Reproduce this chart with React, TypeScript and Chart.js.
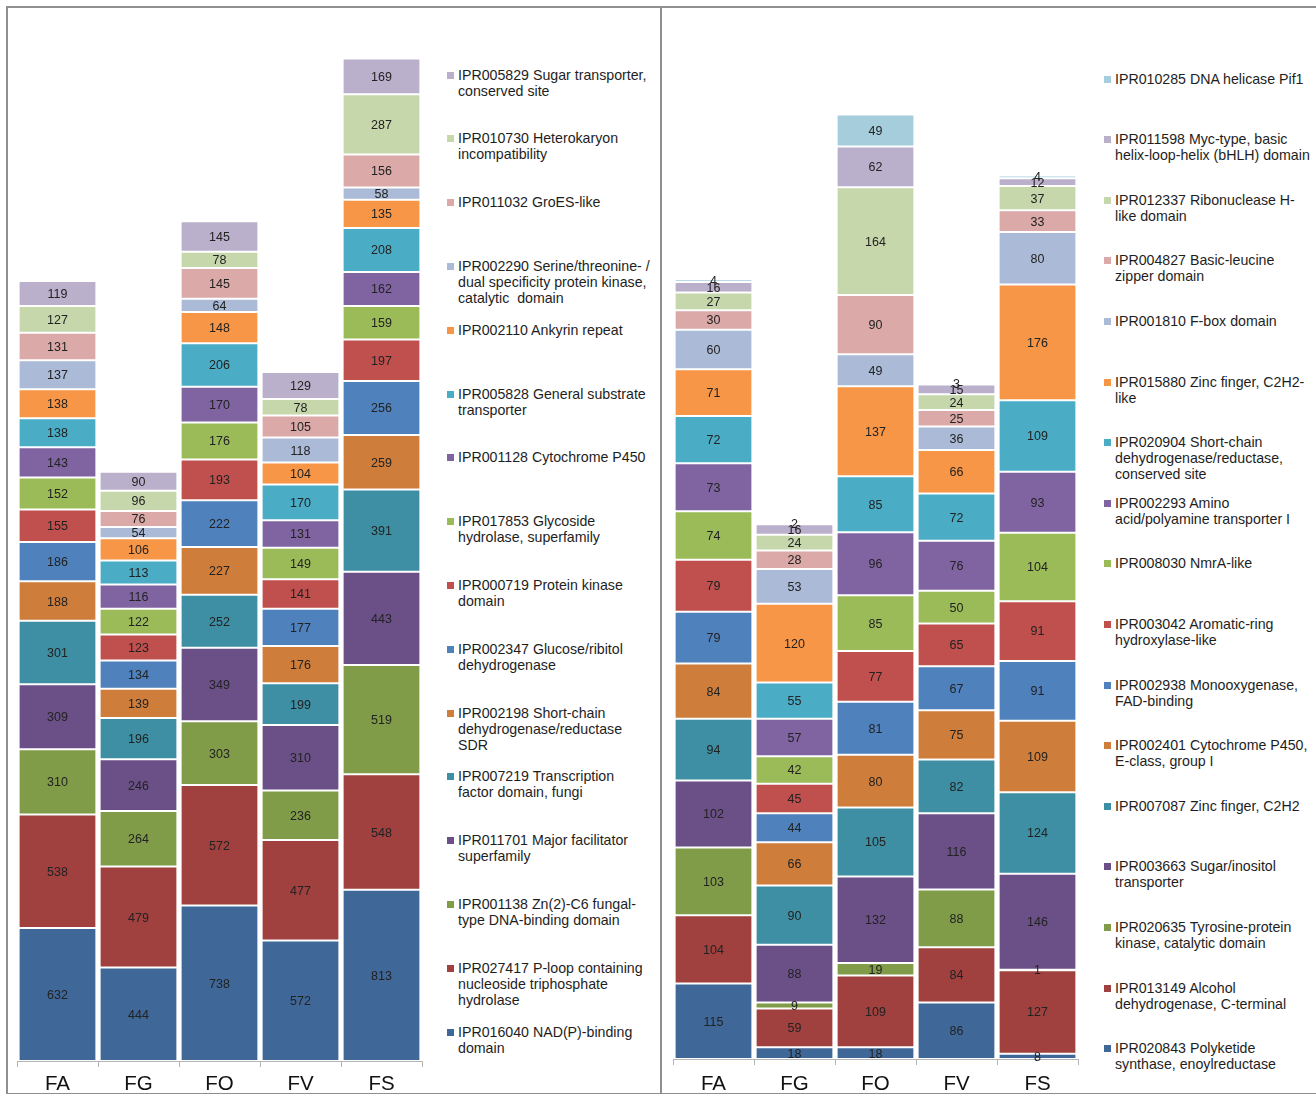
import React, { useEffect, useRef } from "react";
import { Chart, registerables } from "chart.js";

Chart.register(...registerables);

const FONT = "'Liberation Sans', Arial, sans-serif";

const categories = ["FA", "FG", "FO", "FV", "FS"];

// ---------- Left panel (legend order, top to bottom) ----------
const leftNames = [
  "IPR005829 Sugar transporter,\nconserved site",
  "IPR010730 Heterokaryon\nincompatibility",
  "IPR011032 GroES-like",
  "IPR002290 Serine/threonine- /\ndual specificity protein kinase,\ncatalytic  domain",
  "IPR002110 Ankyrin repeat",
  "IPR005828 General substrate\ntransporter",
  "IPR001128 Cytochrome P450",
  "IPR017853 Glycoside\nhydrolase, superfamily",
  "IPR000719 Protein kinase\ndomain",
  "IPR002347 Glucose/ribitol\ndehydrogenase",
  "IPR002198 Short-chain\ndehydrogenase/reductase\nSDR",
  "IPR007219 Transcription\nfactor domain, fungi",
  "IPR011701 Major facilitator\nsuperfamily",
  "IPR001138 Zn(2)-C6 fungal-\ntype DNA-binding domain",
  "IPR027417 P-loop containing\nnucleoside triphosphate\nhydrolase",
  "IPR016040 NAD(P)-binding\ndomain",
];
const leftSugarTransporter = [119, 90, 145, 129, 169];
const leftHeterokaryon = [127, 96, 78, 78, 287];
const leftGroES = [131, 76, 145, 105, 156];
const leftSerThr = [137, 54, 64, 118, 58];
const leftAnkyrin = [138, 106, 148, 104, 135];
const leftGeneralSubstrate = [138, 113, 206, 170, 208];
const leftP450 = [143, 116, 170, 131, 162];
const leftGlycoside = [152, 122, 176, 149, 159];
const leftProteinKinase = [155, 123, 193, 141, 197];
const leftGlucoseRibitol = [186, 134, 222, 177, 256];
const leftSDR = [188, 139, 227, 176, 259];
const leftTFFungi = [301, 196, 252, 199, 391];
const leftMFS = [309, 246, 349, 310, 443];
const leftZnC6 = [310, 264, 303, 236, 519];
const leftPLoop = [538, 479, 572, 477, 548];
const leftNADP = [632, 444, 738, 572, 813];
const leftValues = [
  leftSugarTransporter, leftHeterokaryon, leftGroES, leftSerThr, leftAnkyrin,
  leftGeneralSubstrate, leftP450, leftGlycoside, leftProteinKinase, leftGlucoseRibitol,
  leftSDR, leftTFFungi, leftMFS, leftZnC6, leftPLoop, leftNADP,
];
const leftColors = [
  "#BBB0CB", "#C6D7AB", "#DBA9A8", "#AABAD7", "#F79646", "#4BACC6", "#8064A2", "#9BBB59",
  "#C0504D", "#4F81BD", "#CE7D3A", "#3E8FA3", "#6B5088", "#809C48", "#A0413F", "#3F6899",
];

// ---------- Right panel (legend order, top to bottom) ----------
const rightNames = [
  "IPR010285 DNA helicase Pif1",
  "IPR011598 Myc-type, basic\nhelix-loop-helix (bHLH) domain",
  "IPR012337 Ribonuclease H-\nlike domain",
  "IPR004827 Basic-leucine\nzipper domain",
  "IPR001810 F-box domain",
  "IPR015880 Zinc finger, C2H2-\nlike",
  "IPR020904 Short-chain\ndehydrogenase/reductase,\nconserved site",
  "IPR002293 Amino\nacid/polyamine transporter I",
  "IPR008030 NmrA-like",
  "IPR003042 Aromatic-ring\nhydroxylase-like",
  "IPR002938 Monooxygenase,\nFAD-binding",
  "IPR002401 Cytochrome P450,\nE-class, group I",
  "IPR007087 Zinc finger, C2H2",
  "IPR003663 Sugar/inositol\ntransporter",
  "IPR020635 Tyrosine-protein\nkinase, catalytic domain",
  "IPR013149 Alcohol\ndehydrogenase, C-terminal",
  "IPR020843 Polyketide\nsynthase, enoylreductase",
];
const rightPif1 = [4, 2, 49, 3, 4];
const rightBHLH = [16, 16, 62, 15, 12];
const rightRNaseH = [27, 24, 164, 24, 37];
const rightBZIP = [30, 28, 90, 25, 33];
const rightFBox = [60, 53, 49, 36, 80];
const rightZnC2H2Like = [71, 120, 137, 66, 176];
const rightSDRConserved = [72, 55, 85, 72, 109];
const rightAminoAcid = [73, 57, 96, 76, 93];
const rightNmrA = [74, 42, 85, 50, 104];
const rightAromatic = [79, 45, 77, 65, 91];
const rightMonooxygenase = [79, 44, 81, 67, 91];
const rightP450E = [84, 66, 80, 75, 109];
const rightZnC2H2 = [94, 90, 105, 82, 124];
const rightSugarInositol = [102, 88, 132, 116, 146];
const rightTyrKinase = [103, 9, 19, 88, 1];
const rightADH = [104, 59, 109, 84, 127];
const rightPKSER = [115, 18, 18, 86, 8];
const rightValues = [
  rightPif1, rightBHLH, rightRNaseH, rightBZIP, rightFBox, rightZnC2H2Like,
  rightSDRConserved, rightAminoAcid, rightNmrA, rightAromatic, rightMonooxygenase,
  rightP450E, rightZnC2H2, rightSugarInositol, rightTyrKinase, rightADH, rightPKSER,
];
const rightColors = [
  "#A5CDDB", "#BBB0CB", "#C6D7AB", "#DBA9A8", "#AABAD7", "#F79646", "#4BACC6", "#8064A2",
  "#9BBB59", "#C0504D", "#4F81BD", "#CE7D3A", "#3E8FA3", "#6B5088", "#809C48", "#A0413F",
  "#3F6899",
];

const segmentLabels = {
  id: "segmentLabels",
  afterDatasetsDraw(chart: any) {
    const ctx = chart.ctx;
    ctx.save();
    ctx.font = `12.5px ${FONT}`;
    ctx.fillStyle = "#222222";
    ctx.textAlign = "center";
    ctx.textBaseline = "middle";
    chart.data.datasets.forEach((ds: any, di: number) => {
      const meta = chart.getDatasetMeta(di);
      meta.data.forEach((el: any, i: number) => {
        const v = ds.data[i];
        if (v == null) return;
        const p = el.getProps(["x", "y", "base"], true);
        ctx.fillText(String(v), p.x, (p.y + p.base) / 2 + 1);
      });
    });
    ctx.restore();
  },
};

function StackChart(props: {
  names: string[];
  values: number[][];
  colors: string[];
  max: number;
  padLeft: number;
  padRight: number;
  tickPad: number;
  width: number;
  height: number;
}) {
  const ref = useRef<HTMLCanvasElement | null>(null);
  useEffect(() => {
    if (!ref.current) return;
    const n = props.names.length;
    const datasets = [];
    for (let k = n - 1; k >= 0; k--) {
      datasets.push({
        label: props.names[k].replace(/\n/g, " "),
        data: props.values[k],
        backgroundColor: props.colors[k],
        borderColor: "#ffffff",
        borderWidth: 1,
        borderSkipped: false,
        barPercentage: 0.96,
        categoryPercentage: 1,
      });
    }
    const chart = new Chart(ref.current, {
      type: "bar",
      data: { labels: categories, datasets },
      options: {
        responsive: false,
        animation: false,
        devicePixelRatio: 1,
        layout: { padding: { left: props.padLeft, right: props.padRight, top: 0, bottom: 0 } },
        plugins: { legend: { display: false }, tooltip: { enabled: false } },
        scales: {
          x: {
            stacked: true,
            grid: {
              display: true,
              drawOnChartArea: false,
              drawTicks: true,
              tickLength: 6,
              color: "#b5b5b5",
              offset: true,
            },
            border: { display: true, color: "#b5b5b5" },
            ticks: { font: { size: 20.5, family: FONT }, color: "#111111", padding: props.tickPad },
            afterFit: (scale: any) => {
              scale.height = 33;
            },
          },
          y: { stacked: true, display: false, min: 0, max: props.max },
        },
      },
      plugins: [segmentLabels],
    } as any);
    return () => chart.destroy();
  }, []);
  return <canvas ref={ref} width={props.width} height={props.height} style={{ width: props.width, height: props.height, display: "block" }} />;
}

function Legend(props: { names: string[]; colors: string[]; x: number; y0: number; step: number }) {
  return (
    <>
      {props.names.map((nm, i) => {
        const cy = props.y0 + i * props.step;
        return (
          <React.Fragment key={i}>
            <div
              style={{
                position: "absolute",
                left: props.x,
                top: cy - 3,
                width: 7,
                height: 7,
                background: props.colors[i],
              }}
            />
            <div
              style={{
                position: "absolute",
                left: props.x + 11,
                top: cy - 8,
                font: `14.2px ${FONT}`,
                lineHeight: "16px",
                color: "#1e1e1e",
                whiteSpace: "pre",
              }}
            >
              {nm}
            </div>
          </React.Fragment>
        );
      })}
    </>
  );
}

export default function App() {
  return (
    <div
      style={{
        position: "absolute",
        left: 0,
        top: 0,
        width: 1316,
        height: 1094,
        background: "#ffffff",
        overflow: "hidden",
      }}
    >
      <div
        style={{
          position: "absolute",
          left: 6,
          top: 6,
          width: 653,
          height: 1085,
          border: "2px solid #8f8f8f",
          borderRight: "none",
        }}
      />
      <div
        style={{
          position: "absolute",
          left: 660,
          top: 6,
          width: 700,
          height: 1085,
          border: "2px solid #8f8f8f",
        }}
      />
      <div style={{ position: "absolute", left: 8, top: 8 }}>
        <StackChart
          names={leftNames}
          values={leftValues}
          colors={leftColors}
          max={5000}
          padLeft={9}
          padRight={16}
          tickPad={5}
          width={430}
          height={1086}
        />
      </div>
      <div style={{ position: "absolute", left: 663, top: 8 }}>
        <StackChart
          names={rightNames}
          values={rightValues}
          colors={rightColors}
          max={1600}
          padLeft={10}
          padRight={15}
          tickPad={7}
          width={430}
          height={1084}
        />
      </div>
      <Legend names={leftNames} colors={leftColors} x={447} y0={74.5} step={63.8} />
      <Legend names={rightNames} colors={rightColors} x={1104} y0={78.5} step={60.6} />
    </div>
  );
}
